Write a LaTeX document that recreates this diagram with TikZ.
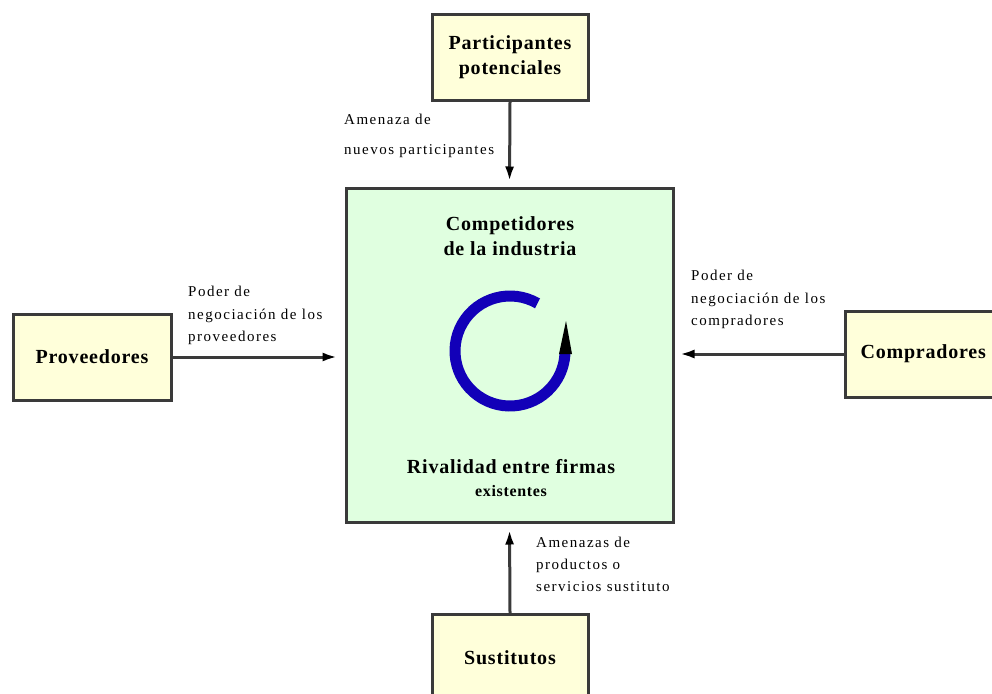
\documentclass[tikz,border=0pt]{standalone}
\usepackage{fontspec}
\setmainfont{Liberation Serif}
\newfontfamily\boxfont[LetterSpace=4]{Liberation Serif}
\newfontfamily\lblfont[LetterSpace=10]{Liberation Serif}
\usetikzlibrary{arrows.meta}
\definecolor{boxyellow}{HTML}{FFFFDA}
\definecolor{boxgreen}{HTML}{E0FFE0}
\definecolor{edgegray}{HTML}{3A3A3A}
\definecolor{ringblue}{HTML}{1200B8}
\begin{document}
\begin{tikzpicture}[x=1pt,y=-1pt,
  force/.style={draw=edgegray, line width=3pt, fill=boxyellow, inner sep=0pt,
    align=center, font=\boxfont\bfseries\fontsize{20}{25}\selectfont},
  core/.style={draw=edgegray, line width=3pt, fill=boxgreen, inner sep=0pt},
  title/.style={inner sep=0pt, align=center, font=\boxfont\bfseries\fontsize{20}{25}\selectfont},
  lbl/.style={inner sep=0pt, anchor=north west, align=left, font=\lblfont\fontsize{15}{22.5}\selectfont},
  conn/.style={draw=edgegray, line width=3pt, -{Latex[length=15pt,width=9pt,black]}}]
\useasboundingbox (0,0) rectangle (992,693);
\clip (0,0) rectangle (992,693);

% the five forces
\node[core, minimum width=327pt, minimum height=334pt] (center) at (509.5,355) {};
\node[force, minimum width=156pt, minimum height=85pt] (part) at (510,57.5) {Participantes\\potenciales};
\node[force, minimum width=158pt, minimum height=86pt] (prov) at (92,357) {Proveedores};
\node[force, minimum width=155pt, minimum height=86pt, text width=140pt, align=left] (comp) at (922.5,354) {\hspace*{8pt}Compradores};
\node[force, minimum width=156pt, minimum height=86pt] (sust) at (510,657.5) {Sustitutos};

% titles inside the industry box
\node[title] (comptxt) at (510,236) {Competidores\\de la industria};
\node[title, font=\boxfont\bfseries\fontsize{20}{23}\selectfont] (rivtxt) at (511,478)
  {Rivalidad entre firmas\\{\fontsize{16}{16}\selectfont existentes}};

% rivalry ring
\coordinate (ringc) at (510,351);
\draw[ringblue, line width=11pt] ([shift={(-60:55)}]ringc) arc[start angle=-60, end angle=-358, radius=55];
\fill[black] (559,354) -- (572,354) -- (566,321) -- cycle;

% connectors
\draw[conn, shorten >=5pt] (part.south) -- (center.north);
\draw[conn, shorten >=7pt] (prov.east) -- (prov.east -| center.west);
\draw[conn, shorten >=5pt] (comp.west) -- (comp.west -| center.east);
\draw[conn, shorten >=6pt] (sust.north) -- (center.south);

% connector labels
\node[lbl, font=\lblfont\fontsize{15}{30}\selectfont] (ltop) at (344,114) {Amenaza de\\nuevos participantes};
\node[lbl] (lleft) at (188,286) {Poder de\\negociación de los\\proveedores};
\node[lbl] (lright) at (691,270) {Poder de\\negociación de los\\compradores};
\node[lbl, font=\lblfont\fontsize{15}{22}\selectfont] (lbot) at (536,537) {Amenazas de\\productos o\\servicios sustituto};
\end{tikzpicture}
\end{document}
